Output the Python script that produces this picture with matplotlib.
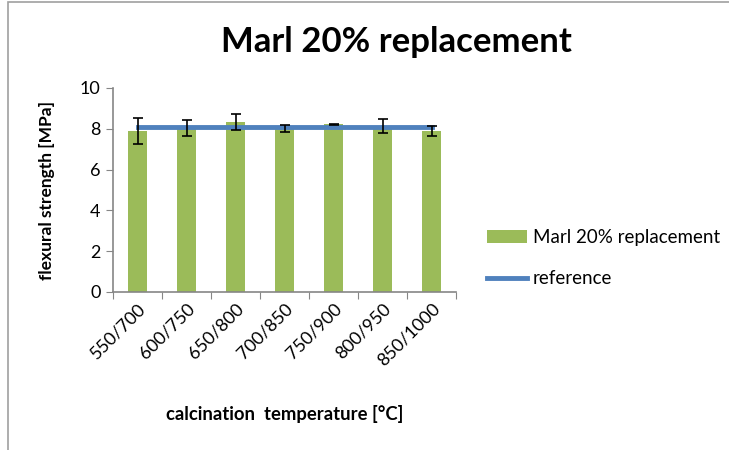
import matplotlib.pyplot as plt
import matplotlib.patches as patches
import numpy as np

plt.rcParams['font.family'] = ['Lato', 'DejaVu Sans']

categories = ['550/700', '600/750', '650/800', '700/850', '750/900', '800/950', '850/1000']
strength = [7.89, 8.05, 8.33, 8.03, 8.22, 8.12, 7.90]
errors = [0.65, 0.40, 0.41, 0.17, 0.03, 0.34, 0.25]
reference = [8.1] * 7

green = '#9BBB59'
blue = '#4F81BD'
grey = '#868686'

fig = plt.figure(figsize=(7.29, 4.5), dpi=100)
ax = fig.add_axes([113/729, 158/450, 343/729, 204/450])

x = np.arange(len(categories))
bars = ax.bar(x, strength, width=0.4, color=green, label='Marl 20% replacement', zorder=2)
ax.errorbar(x, strength, yerr=errors, fmt='none', ecolor='black', elinewidth=1.2,
            capsize=3.5, capthick=1.2, zorder=4)
line, = ax.plot(x, reference, color=blue, linewidth=3.5, label='reference', zorder=3)

ax.set_xlim(-0.5, len(categories) - 0.5)
ax.set_ylim(0, 10)
ax.set_yticks(range(0, 11, 2))
ax.set_xticks(np.arange(-0.5, len(categories), 1))
ax.set_xticklabels([])
ax.set_xticks(x, minor=True)
ax.set_xticklabels(categories, minor=True, rotation=45, ha='right',
                   rotation_mode='anchor', fontsize=13)
ax.tick_params(axis='x', which='minor', length=0, pad=6)
ax.tick_params(axis='x', which='major', length=5, color=grey, direction='out')
ax.tick_params(axis='y', length=5, color=grey, labelsize=13, pad=4)

for s in ['top', 'right']:
    ax.spines[s].set_visible(False)
for s in ['left', 'bottom']:
    ax.spines[s].set_color(grey)
    ax.spines[s].set_linewidth(1.2)

ax.set_ylabel('flexural strength [MPa]', fontsize=12.5, fontweight='bold', labelpad=18)
fig.text(285/729, 1 - 414/450, 'calcination  temperature [°C]', fontsize=13.3,
         fontweight='bold', ha='center', va='center')
fig.text(396/729, 1 - 42/450, 'Marl 20% replacement', fontsize=25,
         fontweight='bold', ha='center', va='center')

ax.legend(handles=[bars, line], loc='center left', bbox_to_anchor=(487/729, 1 - 258/450),
          bbox_transform=fig.transFigure, frameon=False, fontsize=13.5, borderpad=0,
          borderaxespad=0, handlelength=2.15, handleheight=0.7, labelspacing=1.3,
          handletextpad=0.3)

fig.patches.append(patches.Rectangle((8/729, -0.1), 1.2, 1.1 - 2/450, transform=fig.transFigure,
                                     fill=False, edgecolor='#A0A0A0', linewidth=1.2))

fig.savefig('out.png', dpi=100)
